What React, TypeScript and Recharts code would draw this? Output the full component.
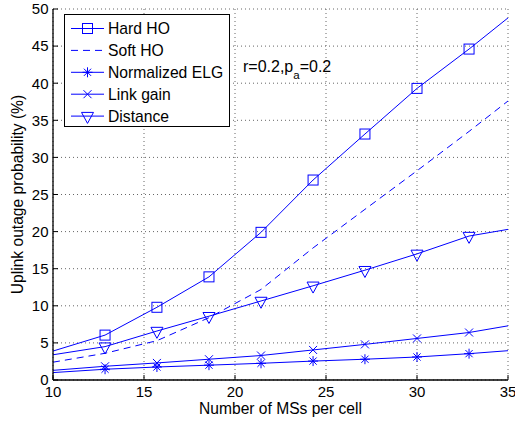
import React from 'react';
import { LineChart, Line, XAxis, YAxis, CartesianGrid, Legend, Label } from 'recharts';

// values
const msPerCell = [10, 12.86, 15.71, 18.57, 21.43, 24.29, 27.14, 30, 32.86, 35];
const hardHO = [3.9, 6.05, 9.8, 13.9, 19.9, 26.95, 33.15, 39.3, 44.6, 48.8];
const softHO = [2.4, 3.6, 5.3, 8.4, 12.2, 17.8, 23.0, 28.2, 33.5, 37.6];
const normalizedELG = [1.0, 1.45, 1.75, 2.0, 2.25, 2.55, 2.8, 3.1, 3.55, 3.95];
const linkGain = [1.3, 1.85, 2.3, 2.8, 3.3, 4.05, 4.8, 5.6, 6.4, 7.3];
const distance = [3.4, 4.5, 6.6, 8.6, 10.65, 12.7, 14.8, 17.0, 19.4, 20.3];

const xTicks = [10, 15, 20, 25, 30, 35];
const yTicks = [0, 5, 10, 15, 20, 25, 30, 35, 40, 45, 50];

const BLUE = '#0000ff';
const FONT = '"Liberation Sans", Arial, Helvetica, sans-serif';

type MarkerKind = 'square' | 'none' | 'star' | 'cross' | 'triangle';

const series: { key: string; name: string; marker: MarkerKind; dash?: string }[] = [
  { key: 'hardHO', name: 'Hard HO', marker: 'square' },
  { key: 'softHO', name: 'Soft HO', marker: 'none', dash: '7 5' },
  { key: 'normalizedELG', name: 'Normalized ELG', marker: 'star' },
  { key: 'linkGain', name: 'Link gain', marker: 'cross' },
  { key: 'distance', name: 'Distance', marker: 'triangle' },
];

const data = msPerCell.map((x, i) => ({
  x,
  hardHO: hardHO[i],
  softHO: softHO[i],
  normalizedELG: normalizedELG[i],
  linkGain: linkGain[i],
  distance: distance[i],
}));

const drawMarker = (kind: MarkerKind, cx: number, cy: number) => {
  const common = { stroke: BLUE, strokeWidth: 1, fill: 'none' };
  switch (kind) {
    case 'square':
      return <rect x={cx - 5} y={cy - 5} width={10} height={10} {...common} />;
    case 'star':
      return (
        <g {...common}>
          <line x1={cx} y1={cy - 5} x2={cx} y2={cy + 5} />
          <line x1={cx - 5} y1={cy} x2={cx + 5} y2={cy} />
          <line x1={cx - 3.6} y1={cy - 3.6} x2={cx + 3.6} y2={cy + 3.6} />
          <line x1={cx - 3.6} y1={cy + 3.6} x2={cx + 3.6} y2={cy - 3.6} />
        </g>
      );
    case 'cross':
      return (
        <g {...common}>
          <line x1={cx - 4} y1={cy - 4} x2={cx + 4} y2={cy + 4} />
          <line x1={cx - 4} y1={cy + 4} x2={cx + 4} y2={cy - 4} />
        </g>
      );
    case 'triangle':
      return (
        <polygon
          points={`${cx - 6},${cy - 3.7} ${cx + 6},${cy - 3.7} ${cx},${cy + 7.3}`}
          {...common}
        />
      );
    default:
      return null;
  }
};

// markers only on the inner samples, not at the line ends
const makeDot = (kind: MarkerKind) => (props: any) => {
  const { cx, cy, index } = props;
  if (kind === 'none' || index === 0 || index === msPerCell.length - 1) {
    return <g key={`d-${index}`} />;
  }
  return <g key={`d-${index}`}>{drawMarker(kind, cx, cy)}</g>;
};

const tickText = { fontFamily: FONT, fontSize: 15, fill: '#000' };

const BottomTick = ({ x, y, payload }: any) => (
  <g>
    <line x1={x} x2={x} y1={y} y2={y - 5} stroke="#000" />
    <text x={x} y={y + 17} textAnchor="middle" style={tickText}>{payload.value}</text>
  </g>
);
const TopTick = ({ x, y }: any) => (
  <line x1={x} x2={x} y1={y} y2={y + 5} stroke="#000" />
);
const LeftTick = ({ x, y, payload }: any) => (
  <g>
    <line x1={x} x2={x + 5} y1={y} y2={y} stroke="#000" />
    <text x={x - 4.5} y={y + 5.3} textAnchor="end" style={tickText}>{payload.value}</text>
  </g>
);
const RightTick = ({ x, y }: any) => (
  <line x1={x} x2={x - 5} y1={y} y2={y} stroke="#000" />
);

const renderLegend = () => (
  <svg width={166} height={113} style={{ display: 'block' }}>
    <rect x={0.5} y={0.5} width={165} height={112} fill="#fff" stroke="#000" />
    {series.map((s, i) => {
      const cy = 14.5 + i * 21.9;
      return (
        <g key={s.key}>
          <line x1={7} x2={40} y1={cy} y2={cy} stroke={BLUE} strokeDasharray={s.dash} />
          {drawMarker(s.marker, 23.5, cy)}
          <text x={44} y={cy + 5.6} style={{ fontFamily: FONT, fontSize: 15.7, fill: '#000' }}>
            {s.name}
          </text>
        </g>
      );
    })}
  </svg>
);

const axisLine = { stroke: '#000', strokeWidth: 1.3 };

export default function App() {
  return (
    <div style={{ position: 'absolute', left: 0, top: 0, width: 515, height: 422, background: '#fff' }}>
      <LineChart width={515} height={422} data={data} margin={{ top: 9, right: 7, bottom: 0, left: 0 }}>
        <CartesianGrid stroke="#666" strokeDasharray="1 3" />
        <XAxis
          dataKey="x"
          type="number"
          domain={[10, 35]}
          ticks={xTicks}
          interval={0}
          allowDataOverflow
          height={42}
          tickSize={0}
          tickMargin={0}
          tickLine={false}
          axisLine={axisLine}
          tick={(p: any) => <BottomTick {...p} />}
        >
          <Label
            value="Number of MSs per cell"
            position="insideBottom"
            offset={8}
            style={{ fontFamily: FONT, fontSize: 15.6, fill: '#000' }}
          />
        </XAxis>
        <XAxis
          xAxisId="top"
          orientation="top"
          type="number"
          domain={[10, 35]}
          ticks={xTicks}
          interval={0}
          allowDataOverflow
          height={0}
          tickSize={0}
          tickMargin={0}
          tickLine={false}
          axisLine={axisLine}
          tick={(p: any) => <TopTick {...p} />}
        />
        <YAxis
          type="number"
          domain={[0, 50]}
          ticks={yTicks}
          interval={0}
          allowDataOverflow
          width={53}
          tickSize={0}
          tickMargin={0}
          tickLine={false}
          axisLine={axisLine}
          tick={(p: any) => <LeftTick {...p} />}
        >
          <Label
            value="Uplink outage probability (%)"
            position="insideLeft"
            angle={-90}
            offset={17.5}
            style={{ fontFamily: FONT, fontSize: 15.6, fill: '#000', textAnchor: 'middle' }}
          />
        </YAxis>
        <YAxis
          yAxisId="right"
          orientation="right"
          type="number"
          domain={[0, 50]}
          ticks={yTicks}
          interval={0}
          allowDataOverflow
          width={0}
          tickSize={0}
          tickMargin={0}
          tickLine={false}
          axisLine={axisLine}
          tick={(p: any) => <RightTick {...p} />}
        />
        <Legend
          layout="horizontal"
          verticalAlign="middle"
          align="center"
          content={renderLegend}
          wrapperStyle={{ position: 'absolute', left: 64, top: 14, width: 166, height: 113 }}
        />
        {series.map((s) => (
          <Line
            key={s.key}
            type="linear"
            dataKey={s.key}
            name={s.name}
            stroke={BLUE}
            strokeWidth={1}
            strokeDasharray={s.dash}
            dot={makeDot(s.marker)}
            activeDot={false}
            isAnimationActive={false}
          />
        ))}
      </LineChart>
      <svg
        width={515}
        height={422}
        style={{ position: 'absolute', left: 0, top: 0, pointerEvents: 'none' }}
      >
        <text x={243} y={71.5} style={{ fontFamily: FONT, fontSize: 16, fill: '#000' }}>
          r=0.2,p
          <tspan dy={7} style={{ fontSize: 11.5 }}>a</tspan>
          <tspan dy={-7}>=0.2</tspan>
        </text>
      </svg>
    </div>
  );
}
